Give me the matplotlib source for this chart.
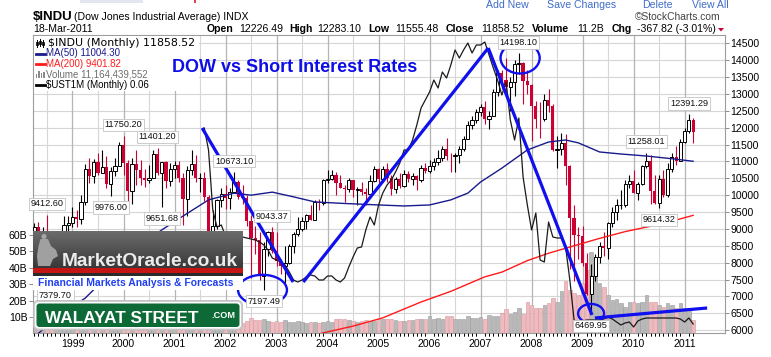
import numpy as np
import pandas as pd
import matplotlib
matplotlib.use('Agg')
import matplotlib.pyplot as plt
from matplotlib.patches import Rectangle, Ellipse, FancyBboxPatch, Polygon, Circle
from matplotlib.transforms import blended_transform_factory
from matplotlib import font_manager as fm

# ---------------- data ----------------
start_month = '1998-04'
year_labels = ['1999', '2000', '2001', '2002', '2003', '2004', '2005',
               '2006', '2007', '2008', '2009', '2010', '2011']

opens = [8800, 9063, 8900, 8952, 8883, 7539, 7843, 8592, 9117,
         9181, 9359, 9307, 9786, 10789, 10560, 10970, 10655, 10829, 10337, 10729, 10878,
         11497, 10941, 10128, 10922, 10734, 10522, 10448, 10522, 11215, 10651, 10971, 10415,
         10787, 10887, 10495, 9879, 10735, 10912, 10502, 10523, 9950, 8848, 9075, 9852,
         10022, 9920, 10106, 10404, 9946, 9925, 9243, 8737, 8664, 7592, 8397, 8896,
         8342, 8054, 7891, 7992, 8480, 8850, 8985, 9233, 9416, 9275, 9801, 9782,
         10454, 10488, 10584, 10358, 10226, 10188, 10435, 10140, 10174, 10080, 10027, 10428,
         10783, 10490, 10766, 10504, 10193, 10467, 10275, 10641, 10482, 10569, 10440, 10806,
         10718, 10865, 10993, 11109, 11367, 11168, 11150, 11186, 11381, 11679, 12081, 12222,
         12463, 12622, 12269, 12354, 13063, 13628, 13409, 13212, 13358, 13896, 13930, 13372,
         13265, 12650, 12266, 12263, 12820, 12638, 11350, 11378, 11544, 10851, 9325, 8829,
         8776, 8001, 7063, 7609, 8168, 8500, 8447, 9172, 9496, 9712, 9713, 10345,
         10428, 10067, 10325, 10857, 11009, 10137, 9774, 10466, 10015, 10788, 11118, 11006,
         11578, 11892, 12226.49]
highs = [9184, 9211, 9069, 9412.60, 8900, 8150, 8600, 9380, 9380,
         9643, 9556, 10006, 10919, 11108, 11066, 11252, 11326, 11150, 10837, 11089, 11569,
         11750.20, 11053, 11100, 11350, 11051, 10788, 10900, 11350, 11401.20, 10978, 11000, 10950,
         11000, 11000, 10650, 10850, 11350, 11200, 10650, 10700, 10000, 9560, 9900, 10200,
         10300, 10200, 10673.10, 10450, 10300, 10000, 9400, 9100, 8900, 8600, 8950, 9043.37,
         8900, 8100, 8500, 8550, 8900, 9350, 9350, 9450, 9700, 9850, 9900, 10480,
         10750, 10750, 10700, 10600, 10300, 10500, 10450, 10250, 10400, 10200, 10600, 10850,
         10800, 10850, 10950, 10600, 10550, 10650, 10750, 10720, 10650, 10600, 10900, 10950,
         11050, 11100, 11350, 11450, 11700, 11250, 11250, 11450, 11750, 12200, 12350, 12550,
         12700, 12800, 12500, 13150, 13700, 13700, 14050, 13500, 14000, 14198.10, 13950, 13700,
         13300, 12800, 12750, 13000, 13150, 12700, 11750, 11850, 11800, 10900, 9700, 9050,
         9100, 8300, 7950, 8250, 8600, 8900, 9200, 9650, 9900, 10150, 10450, 10600,
         10750, 10400, 10900, 11258.01, 11200, 10600, 10600, 10750, 10950, 11250, 11450, 11650,
         12000, 12391.29, 12283.10]
lows = [8750, 8863, 8627, 8800, 7500, 7379.70, 7467, 8580, 8650,
        9063, 9064, 9150, 9700, 10357, 10370, 10600, 10646, 10213, 9976.00, 10580, 10850,
        10600, 9800, 9731, 10300, 10290, 10250, 10350, 10500, 10600, 9651.68, 10220, 10260,
        10500, 10400, 9106, 9390, 10600, 10400, 10100, 9830, 8062, 8800, 9000, 9650,
        9600, 9600, 10050, 9900, 9750, 9100, 7532, 8250, 7500, 7197.49, 8200, 8300,
        7900, 7650, 7400, 7950, 8300, 8800, 8950, 9000, 9250, 9250, 9550, 9700,
        10350, 10450, 10000, 10200, 9800, 10100, 9950, 9700, 10000, 9700, 10000, 10400,
        10350, 10400, 10400, 10000, 10050, 10200, 10250, 10400, 10300, 10150, 10400, 10650,
        10650, 10750, 10900, 11000, 11050, 10700, 10700, 10950, 11300, 11650, 11950, 12150,
        12350, 12100, 11950, 12350, 12950, 13150, 13100, 12500, 12950, 13600, 12700, 13000,
        11600, 12000, 11700, 12200, 12450, 11300, 10800, 11200, 10300, 7800, 7450, 8100,
        7900, 7050, 6469.95, 7450, 8000, 8200, 8100, 9050, 9250, 9600, 9650, 10200,
        10050, 9850, 10300, 10800, 9750, 9750, 9614.32, 9950, 9950, 10700, 10900, 11000,
        11550, 11850, 11555.48]
closes = [9063, 8900, 8952, 8883, 7539, 7843, 8592, 9117, 9181,
          9359, 9307, 9786, 10789, 10560, 10970, 10655, 10829, 10337, 10729, 10878, 11497,
          10941, 10128, 10922, 10734, 10522, 10448, 10522, 11215, 10651, 10971, 10415, 10787,
          10887, 10495, 9879, 10735, 10912, 10502, 10523, 9950, 8848, 9075, 9852, 10022,
          9920, 10106, 10404, 9946, 9925, 9243, 8737, 8664, 7592, 8397, 8896, 8342,
          8054, 7891, 7992, 8480, 8850, 8985, 9233, 9416, 9275, 9801, 9782, 10454,
          10488, 10584, 10358, 10226, 10188, 10435, 10140, 10174, 10080, 10027, 10428, 10783,
          10490, 10766, 10504, 10193, 10467, 10275, 10641, 10482, 10569, 10440, 10806, 10718,
          10865, 10993, 11109, 11367, 11168, 11150, 11186, 11381, 11679, 12081, 12222, 12463,
          12622, 12269, 12354, 13063, 13628, 13409, 13212, 13358, 13896, 13930, 13372, 13265,
          12650, 12266, 12263, 12820, 12638, 11350, 11378, 11544, 10851, 9325, 8829, 8776,
          8001, 7063, 7609, 8168, 8500, 8447, 9172, 9496, 9712, 9713, 10345, 10428,
          10067, 10325, 10857, 11009, 10137, 9774, 10466, 10015, 10788, 11118, 11006, 11578,
          11892, 12226, 11858.52]
volume_b = [5.5, 6.0, 5.0, 6.0, 7.5, 7.0, 7.0, 6.0, 6.0,
            6.0, 5.5, 6.5, 7.0, 6.0, 6.0, 5.5, 5.5, 6.0, 7.0, 6.0, 6.0,
            7.5, 7.0, 8.0, 6.5, 6.0, 5.5, 5.5, 5.5, 6.0, 7.5, 6.5, 7.0,
            7.0, 6.5, 8.0, 7.5, 7.0, 6.5, 6.0, 6.5, 8.5, 8.0, 7.0, 7.0,
            7.0, 7.0, 6.5, 7.0, 6.5, 7.5, 9.5, 8.0, 8.0, 9.0, 7.5, 7.0,
            7.5, 7.0, 8.0, 7.0, 7.0, 7.5, 7.0, 6.5, 7.0, 7.0, 6.5, 7.0,
            7.5, 7.0, 8.7, 8.7, 8.5, 8.0, 7.5, 7.0, 7.5, 8.0, 7.5, 7.5,
            9.0, 8.5, 9.0, 9.0, 8.0, 7.5, 7.5, 8.0, 8.4, 8.5, 8.7, 8.7,
            10.5, 8.5, 9.6, 8.7, 10.5, 10.5, 8.7, 8.7, 8.7, 10.5, 9.6, 9.1,
            10.0, 8.7, 11.2, 10.5, 10.7, 12.2, 14.6, 11.8, 13.2, 15.2, 11.8, 18.9,
            17.3, 15.6, 15.2, 17.3, 18.3, 21.3, 19.3, 26.0, 32.0, 26.4, 24.4, 23.4,
            30.5, 38.6, 49.8, 35.6, 30.5, 28.5, 23.4, 20.3, 20.7, 18.3, 16.3, 19.3,
            19.3, 18.7, 19.1, 23.4, 19.3, 19.3, 17.3, 16.3, 18.3, 17.3, 15.2, 18.7,
            15.2, 15.2, 8.0]

ust1m_start = '2001-08'
ust1m = [3.98, 3.54, 2.34, 2.00, 2.04,
         1.82, 1.80, 1.84, 1.86, 1.80, 1.78, 1.76, 1.74, 1.70, 1.64, 1.54, 1.38,
         1.34, 1.30, 1.24, 1.10, 0.94, 0.90, 0.94, 1.00, 1.04, 1.02, 0.94, 0.94,
         1.02, 1.02, 0.94, 0.90, 0.98, 1.20, 1.40, 1.58, 1.60, 1.94, 2.20, 2.04,
         2.44, 2.68, 2.84, 2.94, 3.10, 3.28, 3.54, 3.54, 3.74, 4.04, 4.38, 4.54,
         4.70, 4.94, 4.78, 5.10, 4.98, 5.24, 5.54, 5.38, 5.54, 5.68, 5.48, 5.64,
         5.64, 5.70, 5.44, 5.18, 4.94, 4.64, 4.90, 4.14, 3.74, 4.18, 3.00, 2.44,
         1.94, 2.28, 1.34, 1.30, 2.10, 1.80, 1.78, 1.78, 1.60, 0.94, 0.14, 0.10,
         0.12, 0.14, 0.14, 0.14, 0.14, 0.16, 0.20, 0.16, 0.10, 0.04, 0.08, 0.10,
         0.00, 0.12, 0.16, 0.18, 0.18, 0.18, 0.18, 0.18, 0.18, 0.18, 0.18, 0.16,
         0.10, 0.18, 0.06]

ma50_months = ['1998-04', '1998-10', '1999-04', '1999-10', '2000-04', '2000-10', '2001-03',
               '2001-09', '2002-03', '2002-07', '2002-12', '2003-05', '2003-10', '2004-04',
               '2005-01', '2005-07', '2006-01', '2006-06', '2006-10', '2007-01', '2007-06',
               '2007-12', '2008-05', '2008-09', '2008-12', '2009-05', '2009-10', '2010-04',
               '2010-10', '2011-03']
ma50_values = [5800, 6450, 6950, 7700, 8400, 8970, 9380, 9860, 10060, 10000, 10090, 9950,
               9800, 9760, 9710, 9680, 9710, 9860, 10060, 10390, 10800, 11340, 11575, 11635,
               11550, 11280, 11220, 11160, 11080, 11004.30]
ma200_months = ['2003-10', '2003-12', '2004-07', '2005-02', '2005-11', '2006-06', '2007-02',
                '2007-06', '2007-12', '2008-05', '2008-11', '2009-05', '2009-11', '2010-05',
                '2010-10', '2011-03']
ma200_values = [5850, 5920, 6120, 6365, 6835, 7150, 7580, 7720, 8060, 8280, 8500, 8720,
                8920, 9080, 9230, 9401.82]

# price flags: (month, 'H' high / 'L' low)
flag_months = ['1998-07', '1998-09', '1999-10', '2000-01', '2000-09', '2000-10', '2002-03',
               '2002-10', '2002-12', '2007-10', '2009-03', '2010-04', '2010-07', '2011-02']
flag_kinds = ['H', 'L', 'L', 'H', 'H', 'L', 'H', 'L', 'H', 'H', 'L', 'H', 'L', 'H']

# hand-drawn annotations (month index, price)
trend_lines = [((39.5, 11990), (60.9, 7427)),
               ((63.3, 7427), (106.8, 14361)),
               ((106.8, 14361), (131.2, 6450)),
               ((131.9, 6361), (158.3, 6657))]
circles = [((114.3, 14064), 9.2, 918),
           ((53.7, 7190), 11.5, 900),
           ((131.0, 6494), 6.1, 565)]

# ---------------- setup ----------------
names = {f.name for f in fm.fontManager.ttflist}
SANS = 'Liberation Sans' if 'Liberation Sans' in names else 'DejaVu Sans'
NARROW = 'Liberation Sans Narrow' if 'Liberation Sans Narrow' in names else SANS
plt.rcParams['font.family'] = [SANS, 'DejaVu Sans']

W, H = 771, 357
fig = plt.figure(figsize=(W / 100, H / 100), dpi=100)
fig.patch.set_facecolor('white')

months = pd.period_range(start_month, periods=len(closes), freq='M')
mpos = {str(m): i for i, m in enumerate(months)}
x = np.arange(len(months))
o, h, l, c = (np.array(a, dtype=float) for a in (opens, highs, lows, closes))
vol = np.array(volume_b)
jan_idx = [i for i, m in enumerate(months) if m.month == 1]
jul_idx = [i for i, m in enumerate(months) if m.month == 7]

Lp, Tp, Rp, Bp = 33, 35, 725, 333.3
rect = [Lp / W, 1 - Bp / H, (Rp - Lp) / W, (Bp - Tp) / H]
ax_vol = fig.add_axes(rect)
ax = fig.add_axes(rect, sharex=ax_vol)
ax.patch.set_alpha(0)
ax_rate = fig.add_axes(rect, sharex=ax_vol)
ax_rate.patch.set_alpha(0)

xlim = (-0.29, 162.5)
ax_vol.set_xlim(*xlim)
ax.set_ylim(5907, 14746)
ax_vol.set_ylim(0, 181.9)
ax_rate.set_ylim(-0.126, 5.84)

# grid (bottom layer)
ptick = np.arange(6000, 14501, 500)
tr = blended_transform_factory(ax_vol.transAxes, ax.transData)
for p in ptick:
    ax_vol.plot([0, 1], [p, p], transform=tr, color='#d6d6d6', lw=0.8, zorder=0.5)
for i in jul_idx:
    ax_vol.axvline(i, color='#d6d6d6', lw=0.8, zorder=0.5)
for i in jan_idx:
    ax_vol.axvline(i, color='#b4b4b4', lw=0.9, zorder=0.6)

# volume bars
prev = np.r_[o[0], c[:-1]]
down = c < prev
ax_vol.bar(x[~down], vol[~down], width=0.85, color='#b9b9b9', edgecolor='#999999', lw=0.4, zorder=2)
ax_vol.bar(x[down], vol[down], width=0.85, color='#eebcc0', edgecolor='#d9959b', lw=0.4, zorder=2)

# candles
up = c >= o
RED = '#cc0033'
ax.vlines(x[up], l[up], h[up], color='black', lw=0.8, zorder=3)
ax.vlines(x[~up], l[~up], h[~up], color=RED, lw=0.8, zorder=3)
ax.bar(x[up], (c - o)[up], bottom=o[up], width=0.75, facecolor='white', edgecolor='black', lw=0.7, zorder=4)
ax.bar(x[~up], (o - c)[~up], bottom=c[~up], width=0.75, color=RED, lw=0, zorder=4)

# moving averages
ax.plot([mpos[m] for m in ma50_months], ma50_values, color='#1a1a8c', lw=1.0, zorder=5)
ax.plot([mpos[m] for m in ma200_months], ma200_values, color='#ff1a1a', lw=1.0, zorder=5)

# UST1M overlay
r0 = mpos[ust1m_start]
ax_rate.plot(np.arange(r0, r0 + len(ust1m)), ust1m, color='#1a1a1a', lw=0.9, zorder=3)

# annotations (on top)
for (x0, y0), (x1, y1) in trend_lines:
    ax_rate.plot([x0, x1], [y0, y1], transform=ax.transData, color='#1010ee', lw=2.3,
                 solid_capstyle='butt', zorder=6, clip_on=False)
for (cx, cy), ew, eh in circles:
    ax_rate.add_patch(Ellipse((cx, cy), ew, eh, transform=ax.transData, fill=False,
                              ec='#1010ee', lw=1.7, zorder=6))

for m, k in zip(flag_months, flag_kinds):
    i = mpos[m]
    val = h[i] if k == 'H' else l[i]
    dy = 8 if k == 'H' else -8.3
    ax_rate.annotate(f'{val:.2f}', xy=(i, val), xycoords=ax.transData,
                     xytext=(0, dy), textcoords='offset points', ha='center', va='center',
                     fontsize=6.6, color='#111111', zorder=7,
                     bbox=dict(boxstyle='square,pad=0.18', fc='white', ec='#c4c4c4', lw=0.6))

# axes styling
for s in ax_vol.spines.values():
    s.set_visible(False)
for s in ax_rate.spines.values():
    s.set_visible(False)
ax_rate.set_yticks([])
ax_rate.tick_params(axis='x', bottom=False, labelbottom=False)
for s in ax.spines.values():
    s.set_color('#9c9c9c')
    s.set_linewidth(0.8)

ax.yaxis.tick_right()
ax.set_yticks(ptick)
ax.set_yticklabels([f'{int(p)}' for p in ptick])
ax.tick_params(axis='y', labelsize=7.6, length=3, width=0.6, color='#7a7a7a', pad=1)
ax.tick_params(axis='x', bottom=False, labelbottom=False)

ax_vol.set_yticks([10, 20, 30, 40, 50, 60])
ax_vol.set_yticklabels(['10B', '20B', '30B', '40B', '50B', '60B'])
ax_vol.tick_params(axis='y', labelsize=7.6, length=3, width=0.6, color='#7a7a7a', pad=1)
ax_vol.set_xticks(jan_idx)
ax_vol.set_xticklabels(year_labels)
ax_vol.set_xticks(x, minor=True)
ax_vol.tick_params(axis='x', which='major', labelsize=7.6, length=3, direction='in',
                   color='#9a9a9a', pad=4)
ax_vol.tick_params(axis='x', which='minor', length=2, direction='in', color='#b0b0b0')

# ---------------- overlay (pixel coordinates) ----------------
ov = fig.add_axes([0, 0, 1, 1], zorder=10)
ov.set_xlim(0, W)
ov.set_ylim(H, 0)
ov.axis('off')
ov.patch.set_alpha(0)

# top links / header
ov.add_patch(Rectangle((80, 0), 63, 3, fc='#e3e6ee', ec='none'))
ov.add_patch(Rectangle((194, 0), 2, 3, fc='#dd4444', ec='none'))
for txt, xx in [('Add New', 486), ('Save Changes', 547), ('Delete', 642), ('View All', 692)]:
    ov.text(xx, 7.5, txt, fontsize=7.6, color='#3f6cc9', va='baseline', ha='left')

ov.text(33, 20, '$INDU', fontsize=9.5, weight='bold', va='baseline')
ov.text(74, 20, '(Dow Jones Industrial Average) INDX', fontsize=7.6, va='baseline')
ov.text(635, 20, '\u00a9StockCharts.com', fontsize=7.4, color='#444444', va='baseline')
ov.text(33, 32, '18-Mar-2011', fontsize=7.6, va='baseline')
hdr = [('Open', 207, True), ('12226.49', 239, False), ('High', 289, True),
       ('12283.10', 317, False), ('Low', 368, True), ('11555.48', 395, False),
       ('Close', 446, True), ('11858.52', 481, False), ('Volume', 532, True),
       ('11.2B', 577, False), ('Chg', 612, True), ('-367.82 (-3.01%)', 637, False)]
for txt, xx, b in hdr:
    ov.text(xx, 32, txt, fontsize=7.6, weight='bold' if b else 'normal', va='baseline')
ov.add_patch(Polygon([(718, 28), (724, 28), (721, 31.5)], closed=True, fc='#cc0033', ec='none'))

# legend
ov.add_patch(Rectangle((34, 36), 165, 55, fc='white', ec='none'))
for xi, (a, b, bo, bc) in zip([36.5, 39.5, 42.5], [(40, 47, 42, 45), (39, 46, 41, 44), (40, 47, 41.5, 45)]):
    ov.plot([xi, xi], [a, b], color='black', lw=0.7)
    ov.add_patch(Rectangle((xi - 1, bo), 2, bc - bo, fc='white', ec='black', lw=0.6))
ov.text(48, 46, '$INDU (Monthly) 11858.52', fontsize=7.9, family='DejaVu Sans', va='baseline')
ov.plot([36, 45], [53.5, 53.5], color='#1a1a8c', lw=2)
ov.text(46.5, 56.5, 'MA(50) 11004.30', fontsize=7.0, color='#1a1a8c', va='baseline')
ov.plot([36, 45], [64, 64], color='#ff1a1a', lw=2)
ov.text(46.5, 67, 'MA(200) 9401.82', fontsize=7.0, color='#ff1a1a', va='baseline')
for xi, ht in zip([36.5, 39, 41.5, 44], [4, 7, 5, 6]):
    ov.add_patch(Rectangle((xi - 0.9, 77.5 - ht), 1.8, ht, fc='#8a8a8a', ec='none'))
ov.text(46.5, 77.5, 'Volume 11,164,439,552', fontsize=7.0, color='#6e6e6e', va='baseline')
ov.plot([36, 45], [84.5, 84.5], color='black', lw=2)
ov.text(46.5, 88, '$UST1M (Monthly) 0.06', fontsize=7.0, color='black', va='baseline')

# title
ov.text(172, 72, 'DOW vs Short Interest Rates', fontsize=13, weight='bold', color='#0d0de8',
        va='baseline')

# MarketOracle banner
n = 37
for k in range(n):
    g = 0.42 - 0.20 * k / (n - 1)
    ov.add_patch(Rectangle((33, 231 + k), 210, 1.05, fc=(g, g, g), ec='none'))
ov.add_patch(Rectangle((33, 268), 210, 4.5, fc='#c41414', ec='none'))
ov.add_patch(Rectangle((33, 272.5), 210, 3, fc='#2a2a2a', ec='none'))
ov.add_patch(Circle((44, 236.5), 2.6, fc='#a4a4a4', ec='none'))
ov.add_patch(Polygon([(40.5, 239), (48, 239), (51, 246), (56, 250), (58, 256), (53, 259),
                      (50, 266), (38, 266), (37, 256), (38.5, 246)], closed=True,
                     fc='#a0a0a0', ec='none'))
ov.text(62, 266, 'MarketOracle.co.uk', fontsize=13.8, weight='bold', color='#ececec',
        va='baseline')
ov.add_patch(Rectangle((33, 276), 210, 14, fc='white', ec='none'))
ov.text(38, 286, 'Financial Markets Analysis & Forecasts', fontsize=7.5, weight='bold',
        color='#2040f0', va='baseline')

# Walayat Street sign
ov.add_patch(FancyBboxPatch((33.5, 300.5), 209, 29.5, boxstyle='round,pad=0,rounding_size=5',
                            fc='#cfcfcf', ec='#bdbdbd', lw=0.6))
ov.add_patch(FancyBboxPatch((35, 302), 206, 26.5, boxstyle='round,pad=0,rounding_size=4',
                            fc='white', ec='none'))
ov.add_patch(FancyBboxPatch((36.5, 303.5), 203, 23.5, boxstyle='round,pad=0,rounding_size=3',
                            fc='#0d6a37', ec='none'))
ov.text(45, 323, 'WALAYAT STREET', fontsize=15 if NARROW != SANS else 12.4,
        family=[NARROW, 'DejaVu Sans'], weight='bold', color='white', va='baseline')
ov.text(211, 318, '.COM', fontsize=6.6, weight='bold', color='white', va='baseline')

fig.savefig('out.png', dpi=100, facecolor='white')
